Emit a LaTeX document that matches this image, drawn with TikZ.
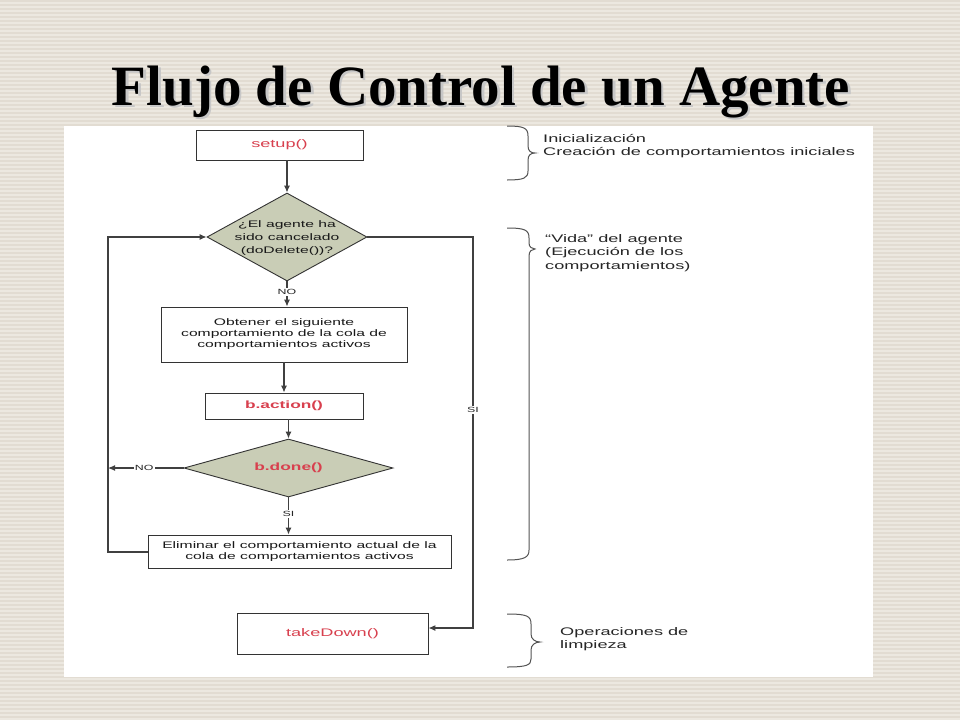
\documentclass[tikz,border=0pt]{standalone}
\usepackage{fontspec}
\setmainfont{Liberation Serif}
\newfontfamily\dg[FakeStretch=1.65]{Liberation Sans}
\usetikzlibrary{shapes.geometric,arrows.meta}
\definecolor{bgA}{HTML}{ECE8E0}
\definecolor{bgB}{HTML}{E2DCD2}
\definecolor{redtxt}{HTML}{D8404E}
\definecolor{diafill}{HTML}{C9CDB6}
\definecolor{edge}{HTML}{333333}
\definecolor{conn}{HTML}{404040}
\tikzset{
  boxn/.style={draw=edge, line width=0.9pt, fill=white, inner sep=0pt},
  dian/.style={draw=edge, line width=0.9pt, fill=diafill, diamond, inner sep=0pt},
  txt/.style={font=\dg\fontsize{9.5}{11}\selectfont, align=center, text=black!90, inner sep=0pt},
  rtxt/.style={font=\dg\fontsize{11}{13}\selectfont, text=redtxt, inner sep=0pt},
  rbtxt/.style={font=\dg\bfseries\fontsize{10.5}{13}\selectfont, text=redtxt, inner sep=0pt},
  note/.style={font=\dg\fontsize{11}{13.5}\selectfont, align=left, text=black!85, inner sep=0pt, anchor=north west},
  lbl/.style={font=\dg\fontsize{7.5}{9}\selectfont, fill=white, inner sep=1pt, text=black!85},
  conline/.style={draw=conn, line width=1.1pt},
  arr/.style={conline, -{Latex[length=7pt,width=6pt]}},
  brc/.style={draw=conn!90, line width=1pt}
}
\begin{document}
\begin{tikzpicture}[x=1pt,y=-1pt]
\useasboundingbox (0,0) rectangle (960,720);
% background
\fill[bgA] (0,0) rectangle (960,720);
\foreach \yy in {0,4,...,716} { \fill[bgB] (0,\yy) rectangle (960,\yy+1.8); }
% title with soft shadow
\node[anchor=base, font=\bfseries\fontsize{57}{60}\selectfont, text=black!22] (titleshadow) at (483.5,107.5) {Flujo de Control de un Agente};
\node[anchor=base, font=\bfseries\fontsize{57}{60}\selectfont, text=black] (title) at (481,105) {Flujo de Control de un Agente};
% white panel
\fill[white] (64,126) rectangle (873,677);

% flowchart nodes
\node[boxn, minimum width=167pt, minimum height=30pt] (setup) at (279.5,145) {};
\node[rtxt] (setupt) at (setup) {setup()};

\node[dian, minimum width=160pt, minimum height=88pt] (d1) at (287,237) {};
\node[txt, font=\dg\fontsize{9.5}{13}\selectfont] (d1t) at (287,238) {¿El agente ha\\sido cancelado\\(doDelete())?};

\node[boxn, minimum width=246pt, minimum height=55pt] (obt) at (284,334.5) {};
\node[txt] (obtt) at (obt) {Obtener el siguiente\\comportamiento de la cola de\\comportamientos activos};

\node[boxn, minimum width=158pt, minimum height=26pt] (act) at (284,406) {};
\node[rbtxt] (actt) at (act) {b.action()};

\node[dian, minimum width=209pt, minimum height=58pt] (d2) at (288.5,468) {};
\node[rbtxt] (d2t) at (d2) {b.done()};

\node[boxn, minimum width=303pt, minimum height=33pt] (elim) at (299.5,551.5) {};
\node[txt] (elimt) at (elim) {Eliminar el comportamiento actual de la\\cola de comportamientos activos};

\node[boxn, minimum width=191pt, minimum height=41pt] (take) at (332.5,633.5) {};
\node[rtxt] (taket) at (take) {takeDown()};

% helper coordinates
\coordinate (Lno) at (108,468);
\coordinate (Lbot) at (108,552);
\coordinate (Ltop) at (108,237);
\coordinate (Rtop) at (473,237);
\coordinate (Rbot) at (473,628);
\coordinate (takeE) at (take.east |- Rbot);

% connectors
\draw[arr] (d1.north |- setup.south) -- (d1.north);
\draw[arr] (d1.south) -- (d1.south |- obt.north) node[lbl, pos=0.42] (no1) {NO};
\draw[arr] (obt.south) -- (act.north);
\draw[arr] (d2.north |- act.south) -- (d2.north);
\draw[arr] (d2.south) -- (d2.south |- elim.north) node[lbl, pos=0.45] (si1) {SI};
\draw[arr] (d2.west) -- (Lno) node[lbl, pos=0.52] (no2) {NO};
\draw[arr] (elim.west |- Lbot) -- (Lbot) -- (Ltop) -- (d1.west);
\draw[arr] (d1.east) -- (Rtop) -- (Rbot) -- (takeE);
\node[lbl, inner sep=1.5pt] (si2) at (473,410) {SI};

% braces
\draw[brc] (507,126) .. controls (524,126) and (528,128) .. (528,136)
  -- (528,146) .. controls (528,151) and (531,153) .. (535,153)
  .. controls (531,153) and (528,155) .. (528,160)
  -- (528,171) .. controls (528,178) and (524,180) .. (507,180);
\draw[brc] (507,228) .. controls (525,228) and (529,230) .. (529,238)
  -- (529,243) .. controls (529,247) and (532,249) .. (535,249)
  .. controls (532,249) and (529,251) .. (529,256)
  -- (529,550) .. controls (529,557) and (525,560) .. (507,560);
\draw[brc] (507,614) .. controls (527,614) and (531,616) .. (531,624)
  -- (531,634) .. controls (531,639) and (535,642) .. (540,642)
  .. controls (535,642) and (531,645) .. (531,650)
  -- (531,659) .. controls (531,665) and (527,667) .. (507,667);

% notes
\node[note] (n1) at (543,134) {Inicialización\\Creación de comportamientos iniciales};
\node[note] (n2) at (545,234) {“Vida” del agente\\(Ejecución de los\\comportamientos)};
\node[note] (n3) at (560,627) {Operaciones de\\limpieza};
\end{tikzpicture}
\end{document}
